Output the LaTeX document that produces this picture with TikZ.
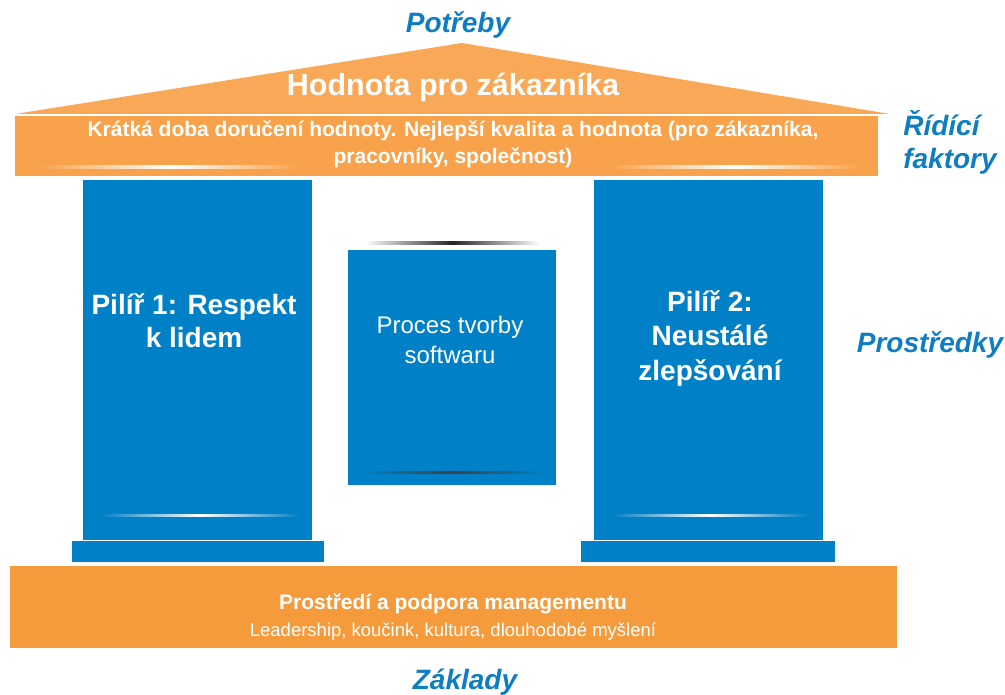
\documentclass[tikz,border=0pt]{standalone}
\usepackage{fontspec}
\setmainfont{Liberation Sans}
\begin{document}
\begin{tikzpicture}[x=1pt,y=-1pt,
  lbl/.style={text=lblue,font=\fontsize{28}{33}\selectfont\bfseries\itshape,align=center},
  wtext/.style={text=white,align=center},
  pillar/.style={fill=pblue,draw=none}]
\definecolor{pblue}{HTML}{0080C6}
\definecolor{lblue}{HTML}{0E7DC2}
\definecolor{roof}{HTML}{F9A857}
\definecolor{beam}{HTML}{F8A24B}
\definecolor{found}{HTML}{F59B3B}
\useasboundingbox (0,0) rectangle (1005,695);
% roof
\fill[roof] (15,114) -- (462,43) -- (890,114) -- cycle;
\fill[beam] (15,116) rectangle (878,176);
\shade[left color=beam,right color=beam,middle color=white] (40,166) rectangle (300,168.5);
\shade[left color=beam,right color=beam,middle color=white] (610,166) rectangle (860,168.5);
\node[wtext,font=\fontsize{30.5}{34}\selectfont\bfseries] (value) at (453,87) {Hodnota pro zákazníka};
\node[wtext,font=\fontsize{21}{27}\selectfont\bfseries] (drivers) at (453,144) {Krátká doba doručení hodnoty. Nejlepší kvalita a hodnota (pro zákazníka,\\pracovníky, společnost)};
% pillars
\fill[pillar] (83,180) rectangle (312,540);
\fill[pillar] (72,541) rectangle (324,562);
\shade[left color=pblue,right color=pblue,middle color=white] (100,514) rectangle (300,516.5);
\node[wtext,font=\fontsize{28}{33}\selectfont\bfseries] (p1) at (194,321) {Pilíř 1: Respekt\\k lidem};
\fill[pillar] (594,180) rectangle (823,540);
\fill[pillar] (581,541) rectangle (835,562);
\shade[left color=pblue,right color=pblue,middle color=white] (612,514) rectangle (808,516.5);
\node[wtext,font=\fontsize{28}{34.5}\selectfont\bfseries] (p2) at (710,338) {Pilíř 2:\\Neustálé\\zlepšování};
% middle
\shade[left color=white,right color=white,middle color=black!85] (365,242) rectangle (540,244.5);
\fill[pillar] (348,250) rectangle (556,485);
\shade[left color=pblue,right color=pblue,middle color=black!75] (360,471) rectangle (545,473.5);
\node[wtext,font=\fontsize{24}{30}\selectfont] (proc) at (450,340) {Proces tvorby\\softwaru};
% foundation
\fill[found] (10,566) rectangle (897,648);
\node[wtext,font=\fontsize{21}{24}\selectfont\bfseries] (env) at (453,604) {Prostředí a podpora managementu};
\node[wtext,font=\fontsize{18.5}{21}\selectfont] (lead) at (453,632) {Leadership, koučink, kultura, dlouhodobé myšlení};
% labels
\node[lbl] (needs) at (458,25) {Potřeby};
\node[lbl,align=left] (fact) at (950,142) {Řídící\\faktory};
\node[lbl] (means) at (930,345) {Prostředky};
\node[lbl] (base) at (465,682) {Základy};
\end{tikzpicture}
\end{document}
